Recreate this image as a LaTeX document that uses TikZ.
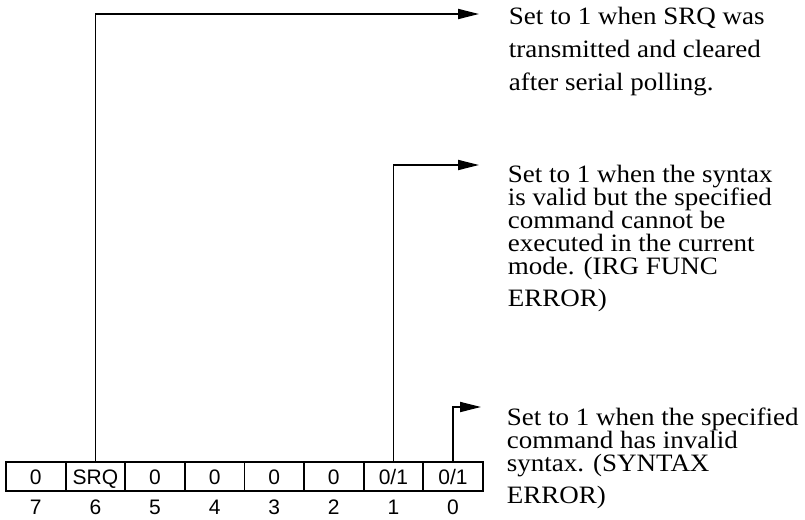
\documentclass[tikz,border=0pt]{standalone}
\usepackage{fontspec}
\setmainfont{Liberation Serif}[FakeStretch=1.08]
\setsansfont{Liberation Sans}
\usetikzlibrary{arrows.meta}
\newcommand\notefont{\fontsize{25}{23}\selectfont\lineskiplimit=-50pt\relax}

\begin{document}
\begin{tikzpicture}[x=1pt,y=-1pt,>={Triangle[length=21pt,width=10pt]},line width=1.8pt,
	cell/.style={draw,minimum width=59.6pt,minimum height=29pt,inner sep=0pt,text height=15.2pt,text depth=0pt,font=\sffamily\fontsize{21}{21}\selectfont},
	bitno/.style={inner sep=0pt,font=\sffamily\fontsize{21}{21}\selectfont},
	note/.style={align=left,anchor=north west,inner sep=0pt,font=\notefont}]
	\useasboundingbox (0,0) rectangle (805,519);
	\def\cw{59.6} \def\xo{6}
	\def\yc{476.5} \def\yn{507}
	\foreach \b/\t in {7/0,6/SRQ,5/0,4/0,3/0,2/0,1/{0/1},0/{0/1}}{
		\node[cell] (b\b) at ({\xo+\cw*(7.5-\b)},\yc) {\t};
		\node[bitno] (n\b) at ({\xo+\cw*(7.5-\b)},\yn) {\b};
	}
	\coordinate (srqEnd) at (479,14);
	\coordinate (fncEnd) at (479,165);
	\coordinate (synEnd) at (481,407);
	\draw[->] (b6.north) |- (srqEnd);
	\draw[->] (b1.north) |- (fncEnd);
	\draw[->] (b0.north) |- (synEnd);
	\node[note] (srqNote) at (508,6) {Set to 1 when SRQ was\\[10pt]transmitted and cleared\\[10pt]after serial polling.};
	\node[note] (fncNote) at (507,164) {Set to 1 when the syntax\\is valid but the specified\\command cannot be\\executed in the current\\mode. (IRG FUNC\\[9pt]ERROR)};
	\node[note] (synNote) at (506,407) {Set to 1 when the specified\\command has invalid\\syntax. (SYNTAX\\[9pt]ERROR)};
\end{tikzpicture}
\end{document}
